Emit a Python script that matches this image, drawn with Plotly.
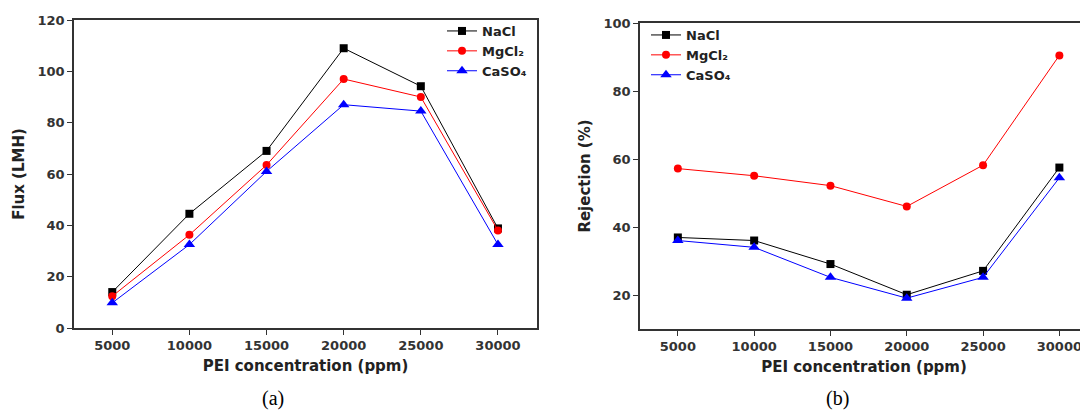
import plotly.graph_objects as go

pei = [5000, 10000, 15000, 20000, 25000, 30000]
tick_vals = [5000, 10000, 15000, 20000, 25000, 30000]
tick_text = ["5000", "10000", "15000", "20000", "25000", "30000"]

flux_nacl = [14, 44.5, 69, 109, 94.2, 38.8]
flux_mgcl2 = [12.4, 36.3, 63.5, 97, 90, 38]
flux_caso4 = [9.8, 32.5, 61, 87, 84.5, 32.5]

rej_nacl = [37.1, 36.2, 29.3, 20.3, 27.3, 57.6]
rej_mgcl2 = [57.3, 55.2, 52.3, 46.2, 58.3, 90.5]
rej_caso4 = [36.2, 34.2, 25.4, 19.3, 25.4, 54.6]

names = ["NaCl", "MgCl₂", "CaSO₄"]
colors = ["#000000", "#ff0000", "#0000ff"]
symbols = ["square", "circle", "triangle-up"]
msizes = [8, 8, 10]

fig = go.Figure()

for i, ys in enumerate([flux_nacl, flux_mgcl2, flux_caso4]):
    fig.add_trace(go.Scatter(
        x=pei, y=ys, name=names[i], mode="lines+markers",
        line=dict(color=colors[i], width=1),
        marker=dict(symbol=symbols[i], size=msizes[i], color=colors[i]),
        xaxis="x", yaxis="y", legend="legend"))

for i, ys in enumerate([rej_nacl, rej_mgcl2, rej_caso4]):
    fig.add_trace(go.Scatter(
        x=pei, y=ys, name=names[i], mode="lines+markers",
        line=dict(color=colors[i], width=1),
        marker=dict(symbol=symbols[i], size=msizes[i], color=colors[i]),
        xaxis="x2", yaxis="y2", legend="legend2"))

tickfont = dict(family="DejaVu Sans", size=13, color="#333333", weight="bold")
titlefont = dict(family="DejaVu Sans", size=15, color="#222222", weight="bold")
legfont = dict(family="DejaVu Sans", size=13, color="#222222", weight="bold")

axis_common = dict(showline=True, linecolor="#333333", linewidth=1.5,
                   ticks="outside", ticklen=5, tickcolor="#333333",
                   showgrid=False, zeroline=False, tickfont=tickfont,
                   automargin=False)

W, H = 1080, 402

fig.update_layout(
    width=W, height=H,
    margin=dict(l=0, r=0, t=0, b=0),
    paper_bgcolor="white", plot_bgcolor="white",
    xaxis=dict(domain=[66/W, 529/W], range=[2520, 32530],
               tickvals=tick_vals, ticktext=tick_text, mirror=True, anchor="y",
               title=dict(text="PEI concentration (ppm)", font=titlefont, standoff=8),
               **axis_common),
    yaxis=dict(domain=[1-320/H, 1-12/H], range=[0, 120],
               tickvals=[0, 20, 40, 60, 80, 100, 120], mirror=True, anchor="x",
               title=dict(text="Flux (LMH)", font=titlefont, standoff=9),
               **axis_common),
    xaxis2=dict(domain=[632/W, 1.0], range=[2520, 31876],
                tickvals=tick_vals, ticktext=tick_text, mirror=True, anchor="y2",
                title=dict(text="PEI concentration (ppm)", font=titlefont, standoff=8),
                **axis_common),
    yaxis2=dict(domain=[1-321/H, 1-15/H], range=[10.25, 100],
                tickvals=[20, 40, 60, 80, 100], mirror=False, anchor="x2",
                title=dict(text="Rejection (%)", font=titlefont, standoff=9),
                **axis_common),
    legend=dict(x=434/W, y=1-8/H, xanchor="left", yanchor="top",
                bgcolor="rgba(0,0,0,0)", font=legfont, tracegroupgap=0,
                itemwidth=30),
    legend2=dict(x=638/W, y=1-12/H, xanchor="left", yanchor="top",
                 bgcolor="rgba(0,0,0,0)", font=legfont, tracegroupgap=0,
                 itemwidth=30),
    annotations=[
        dict(text="(a)", x=265/W, y=1-390/H, xref="paper", yref="paper",
             xanchor="center", yanchor="middle", showarrow=False,
             font=dict(family="Liberation Serif", size=20, color="#000000")),
        dict(text="(b)", x=829/W, y=1-390/H, xref="paper", yref="paper",
             xanchor="center", yanchor="middle", showarrow=False,
             font=dict(family="Liberation Serif", size=20, color="#000000")),
    ],
)

fig.write_html("out.html")
